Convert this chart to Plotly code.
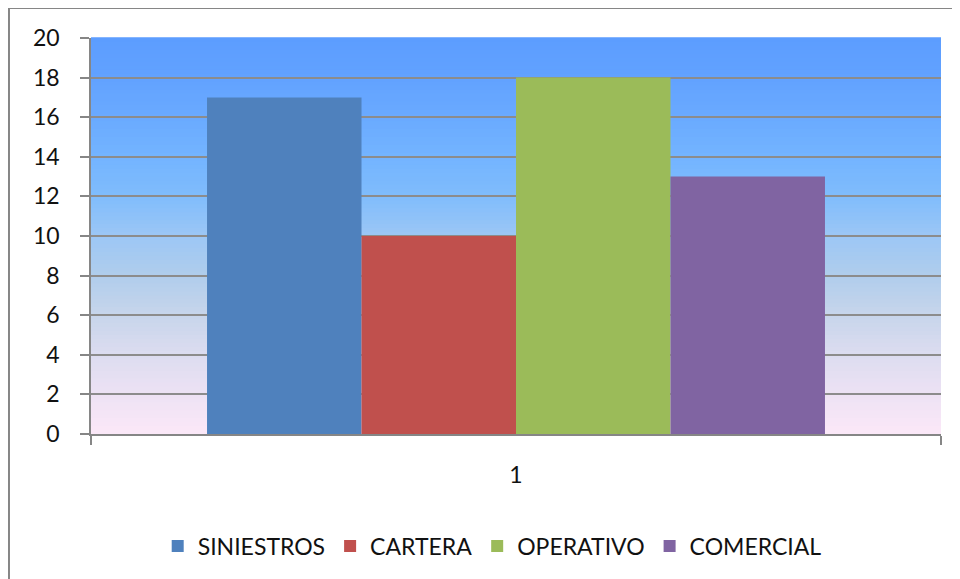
import plotly.graph_objects as go

categories = ["1"]
series_names = ["SINIESTROS", "CARTERA", "OPERATIVO", "COMERCIAL"]
series_values = [[17], [10], [18], [13]]
series_colors = ["#4F81BD", "#C0504D", "#9BBB59", "#8064A2"]
y_ticks = [0, 2, 4, 6, 8, 10, 12, 14, 16, 18, 20]

# background gradient stops (fraction from bottom, rgb)
grad_stops = [
    (0.0, (252, 232, 248)),
    (0.1, (237, 226, 244)),
    (0.2, (220, 220, 240)),
    (0.3, (199, 213, 235)),
    (0.4, (176, 205, 236)),
    (0.5, (156, 199, 245)),
    (0.6, (128, 188, 252)),
    (0.7, (115, 180, 255)),
    (0.8, (106, 170, 255)),
    (0.9, (98, 162, 255)),
    (1.0, (92, 157, 255)),
]

def interp(f):
    for (f0, c0), (f1, c1) in zip(grad_stops[:-1], grad_stops[1:]):
        if f0 <= f <= f1:
            t = (f - f0) / (f1 - f0) if f1 > f0 else 0
            return tuple(round(a + (b - a) * t) for a, b in zip(c0, c1))
    return grad_stops[-1][1]

fig = go.Figure()
for name, vals, col in zip(series_names, series_values, series_colors):
    fig.add_trace(go.Bar(name=name, x=categories, y=vals, marker_color=col,
                         marker_line_width=0))

shapes = []
n = 100
for i in range(n):
    y0 = i / n
    y1 = (i + 1) / n
    r, g, b = interp((y0 + y1) / 2)
    shapes.append(dict(type="rect", xref="paper", yref="paper", x0=0, x1=1,
                       y0=y0, y1=y1 + 0.002, fillcolor=f"rgb({r},{g},{b})",
                       line_width=0, layer="below"))
# outer chart border
shapes.append(dict(type="rect", xref="paper", yref="paper",
                   x0=-0.0965, x1=1.2, y0=-0.6, y1=1.0758,
                   line=dict(color="#868686", width=2), fillcolor="rgba(0,0,0,0)",
                   layer="below"))

fig.update_layout(
    width=960, height=579,
    margin=dict(l=83, r=27, t=30, b=153, autoexpand=False),
    paper_bgcolor="white",
    plot_bgcolor="rgba(0,0,0,0)",
    barmode="group",
    bargap=0.273,
    bargroupgap=0,
    shapes=shapes,
    font=dict(family="Lato, Open Sans, sans-serif", size=23, color="#111111"),
    showlegend=True,
    legend=dict(orientation="h", x=0.472, xanchor="center", y=-0.283, yanchor="middle",
                font=dict(size=23), itemwidth=30, traceorder="normal",
                bgcolor="rgba(0,0,0,0)"),
    xaxis=dict(type="category", showgrid=False, showline=True, linecolor="#868686",
               linewidth=1.5, ticks="outside", tickson="boundaries", ticklen=9,
               tickcolor="#868686", tickwidth=1.5, ticklabelstandoff=20),
    yaxis=dict(range=[0, 20], tickvals=y_ticks, showgrid=True, gridcolor="#8C8C8C",
               gridwidth=1.5, zeroline=False, showline=True, linecolor="#868686",
               linewidth=1.5, ticks="outside", ticklen=9, tickcolor="#868686",
               tickwidth=1.5, ticklabelstandoff=16),
)

fig.write_html("out.html")
